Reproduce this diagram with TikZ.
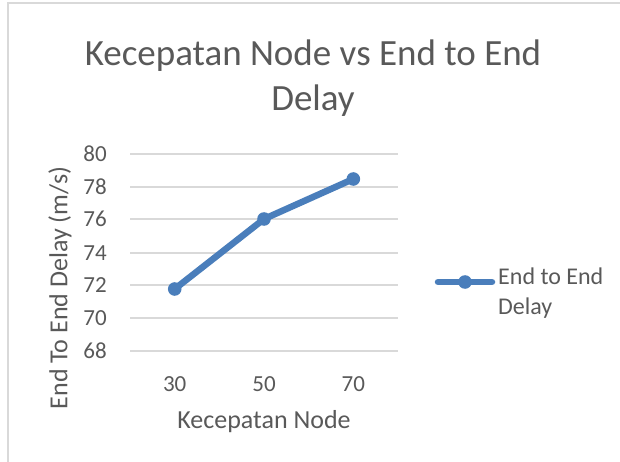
\documentclass[tikz,border=0pt]{standalone}
\usepackage{fontspec}
\setmainfont{Carlito}
\definecolor{txt}{HTML}{595959}
\definecolor{grid}{HTML}{D9D9D9}
\definecolor{ser}{HTML}{4A7EBB}
\begin{document}
\begin{tikzpicture}[x=1pt,y=-1pt,
  lbl/.style={text=txt,inner sep=0pt,font=\fontsize{23}{28}\selectfont},
  gridline/.style={draw=grid,line width=1.3pt},
  serline/.style={draw=ser,line width=6.5pt,line cap=round,line join=round},
  mark/.style={}]
\useasboundingbox (0,0) rectangle (620,462);
\draw[grid,line width=1.3pt] (8,470) -- (8,3) -- (630,3);
\node[text=txt,align=center,font=\fontsize{37}{45}\selectfont] (title) at (313,78) {Kecepatan Node vs End to End\\Delay};
% gridlines
\foreach \v/\y in {80/154,78/187,76/219,74/253,72/285,70/318,68/351}{
  \coordinate (gl\v) at (130,\y);
  \coordinate (gr\v) at (398,\y);
  \draw[gridline] (gl\v) -- (gr\v);
  \node[lbl,anchor=east] (t\v) at (107,\y) {\v};
}
\foreach \c/\x in {30/174.7,50/264,70/353.3}{
  \node[lbl] (x\c) at (\x,384) {\c};
}
\node[lbl,font=\fontsize{26}{30}\selectfont] (xt) at (264,422) {Kecepatan Node};
\node[lbl,font=\fontsize{26}{30}\selectfont,rotate=90] (yt) at (60,288) {End To End Delay (m/s)};
% series
\coordinate (p1) at (174.7,289);
\coordinate (p2) at (264,219);
\coordinate (p3) at (353.3,179);
\draw[serline] (p1) -- (p2) -- (p3);
\foreach \p in {p1,p2,p3}{\fill[ser] (\p) circle (6.8);}
% legend
\coordinate (la) at (438,282);
\coordinate (lb) at (492,282);
\coordinate (lm) at (465,282);
\draw[serline] (la) -- (lb);
\fill[ser] (lm) circle (6.8);
\node[lbl,anchor=north west,align=left,font=\fontsize{24}{30}\selectfont] (leg) at (498,268) {End to End\\Delay};
\end{tikzpicture}
\end{document}
